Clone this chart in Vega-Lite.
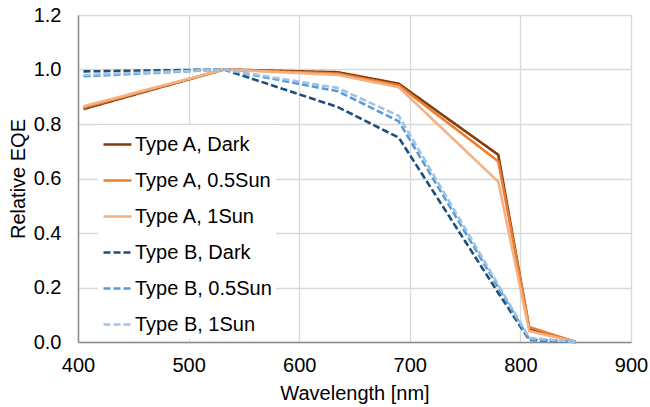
{
  "$schema": "https://vega.github.io/schema/vega-lite/v6.json",
  "width": 553,
  "height": 327,
  "autosize": {"type": "none"},
  "padding": {"left": 78, "top": 15, "right": 19, "bottom": 65},
  "config": {
    "font": "Liberation Sans",
    "view": {"stroke": null},
    "axis": {"labelFontSize": 20, "titleFontSize": 20, "labelColor": "#000000", "titleColor": "#000000", "titleFontWeight": "normal", "gridColor": "#D9D9D9", "gridWidth": 1.3, "ticks": false, "domainColor": "#8C8C8C", "domainWidth": 1.5, "labelFlush": false}
  },
  "data": {
    "values": [
      {"series": "Type A, Dark", "wl": 405, "eqe": 0.855},
      {"series": "Type A, Dark", "wl": 532, "eqe": 1.0},
      {"series": "Type A, Dark", "wl": 635, "eqe": 0.99},
      {"series": "Type A, Dark", "wl": 690, "eqe": 0.948},
      {"series": "Type A, Dark", "wl": 780, "eqe": 0.687},
      {"series": "Type A, Dark", "wl": 808, "eqe": 0.05},
      {"series": "Type A, Dark", "wl": 850, "eqe": 0.0},
      {"series": "Type A, 0.5Sun", "wl": 405, "eqe": 0.86},
      {"series": "Type A, 0.5Sun", "wl": 532, "eqe": 1.0},
      {"series": "Type A, 0.5Sun", "wl": 635, "eqe": 0.985},
      {"series": "Type A, 0.5Sun", "wl": 690, "eqe": 0.942},
      {"series": "Type A, 0.5Sun", "wl": 780, "eqe": 0.663},
      {"series": "Type A, 0.5Sun", "wl": 808, "eqe": 0.055},
      {"series": "Type A, 0.5Sun", "wl": 850, "eqe": 0.0},
      {"series": "Type A, 1Sun", "wl": 405, "eqe": 0.865},
      {"series": "Type A, 1Sun", "wl": 532, "eqe": 1.0},
      {"series": "Type A, 1Sun", "wl": 635, "eqe": 0.98},
      {"series": "Type A, 1Sun", "wl": 690, "eqe": 0.935},
      {"series": "Type A, 1Sun", "wl": 780, "eqe": 0.588},
      {"series": "Type A, 1Sun", "wl": 808, "eqe": 0.04},
      {"series": "Type A, 1Sun", "wl": 850, "eqe": 0.0},
      {"series": "Type B, Dark", "wl": 405, "eqe": 0.993},
      {"series": "Type B, Dark", "wl": 532, "eqe": 1.0},
      {"series": "Type B, Dark", "wl": 635, "eqe": 0.862},
      {"series": "Type B, Dark", "wl": 690, "eqe": 0.75},
      {"series": "Type B, Dark", "wl": 780, "eqe": 0.18},
      {"series": "Type B, Dark", "wl": 808, "eqe": 0.008},
      {"series": "Type B, Dark", "wl": 850, "eqe": 0.0},
      {"series": "Type B, 0.5Sun", "wl": 405, "eqe": 0.975},
      {"series": "Type B, 0.5Sun", "wl": 532, "eqe": 1.0},
      {"series": "Type B, 0.5Sun", "wl": 635, "eqe": 0.92},
      {"series": "Type B, 0.5Sun", "wl": 690, "eqe": 0.81},
      {"series": "Type B, 0.5Sun", "wl": 780, "eqe": 0.2},
      {"series": "Type B, 0.5Sun", "wl": 808, "eqe": 0.01},
      {"series": "Type B, 0.5Sun", "wl": 850, "eqe": 0.0},
      {"series": "Type B, 1Sun", "wl": 405, "eqe": 0.98},
      {"series": "Type B, 1Sun", "wl": 532, "eqe": 1.0},
      {"series": "Type B, 1Sun", "wl": 635, "eqe": 0.932},
      {"series": "Type B, 1Sun", "wl": 690, "eqe": 0.83},
      {"series": "Type B, 1Sun", "wl": 780, "eqe": 0.21},
      {"series": "Type B, 1Sun", "wl": 808, "eqe": 0.015},
      {"series": "Type B, 1Sun", "wl": 850, "eqe": 0.0}
    ]
  },
  "mark": {"type": "line", "strokeWidth": 2.6},
  "encoding": {
    "x": {"field": "wl", "type": "quantitative", "title": "Wavelength [nm]", "scale": {"domain": [400, 900], "nice": false, "zero": false}, "axis": {"values": [400, 500, 600, 700, 800, 900], "labelPadding": 13, "titlePadding": 8}},
    "y": {"field": "eqe", "type": "quantitative", "title": "Relative EQE", "scale": {"domain": [0, 1.2], "nice": false}, "axis": {"values": [0, 0.2, 0.4, 0.6, 0.8, 1.0, 1.2], "format": ".1f", "labelPadding": 17, "titlePadding": 5}},
    "color": {"field": "series", "type": "nominal", "title": null,
      "sort": ["Type A, Dark", "Type A, 0.5Sun", "Type A, 1Sun", "Type B, Dark", "Type B, 0.5Sun", "Type B, 1Sun"],
      "scale": {"domain": ["Type A, Dark", "Type A, 0.5Sun", "Type A, 1Sun", "Type B, Dark", "Type B, 0.5Sun", "Type B, 1Sun"], "range": ["#843C0C", "#ED7D31", "#F4B183", "#1F4E79", "#5B9BD5", "#9DC3E6"]},
      "legend": {"orient": "none", "legendX": 20, "legendY": 110, "labelFontSize": 20, "labelColor": "#000000", "symbolType": "stroke", "symbolSize": 784, "symbolStrokeWidth": 2.6, "rowPadding": 10, "labelOffset": 2, "fillColor": "#ffffff", "padding": 4}},
    "strokeDash": {"field": "series", "type": "nominal", "title": null,
      "sort": ["Type A, Dark", "Type A, 0.5Sun", "Type A, 1Sun", "Type B, Dark", "Type B, 0.5Sun", "Type B, 1Sun"],
      "scale": {"domain": ["Type A, Dark", "Type A, 0.5Sun", "Type A, 1Sun", "Type B, Dark", "Type B, 0.5Sun", "Type B, 1Sun"], "range": [[1, 0], [1, 0], [1, 0], [7, 3], [7, 3], [7, 3]]}}
  }
}
